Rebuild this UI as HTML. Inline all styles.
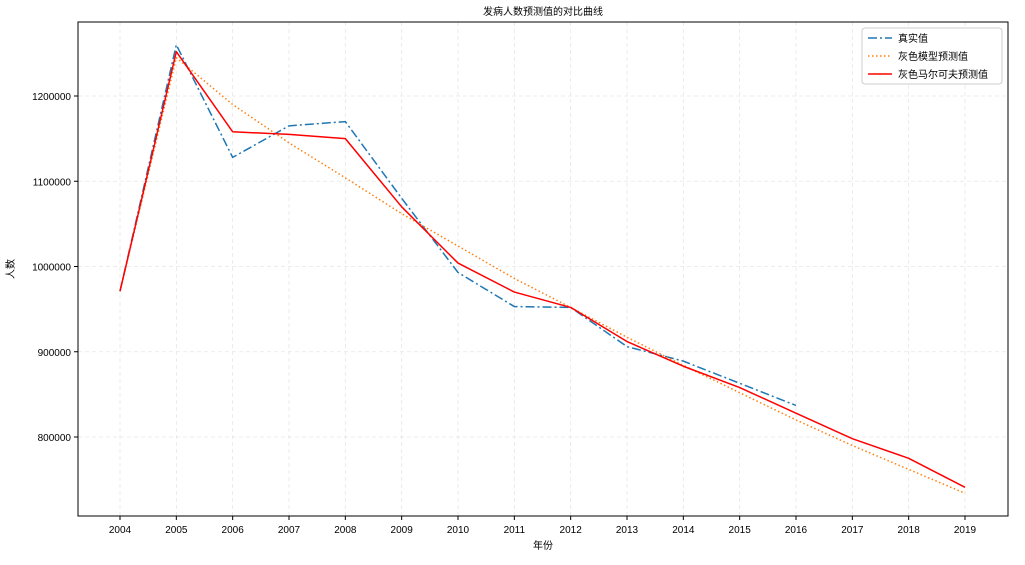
<!DOCTYPE html>
<html><head><meta charset="utf-8"><style>
body{margin:0;background:#fff;}
svg text{font-family:"Liberation Sans","Noto Sans CJK SC",sans-serif;}
</style></head><body>
<svg id="chart" width="1025" height="560" xmlns="http://www.w3.org/2000/svg"></svg>
<script>
const years=[2004,2005,2006,2007,2008,2009,2010,2011,2012,2013,2014,2015,2016,2017,2018,2019];
const actual=[971000,1260000,1128000,1165000,1170000,1080000,993000,953000,952000,906000,889000,863000,837000];
const greyModel=[971000,1245000,1190000,1145000,1104000,1062000,1024000,986000,952000,917000,884000,852000,820000,790000,762000,734000];
const markov=[971000,1252000,1158000,1155000,1150000,1070000,1004000,970000,952000,912000,883000,858000,828000,798000,775000,741000];
const yTicks=[800000,900000,1000000,1100000,1200000];

const L=78,R=1008,T=22,B=516;
const x=y=>120+(y-2004)*(965-120)/15;
const yv=v=>96+(1200000-v)/100000*85.25;
const svg=document.getElementById('chart');
const NS='http://www.w3.org/2000/svg';
function mk(tag,attrs,parent){const e=document.createElementNS(NS,tag);for(const k in attrs)e.setAttribute(k,attrs[k]);(parent||svg).appendChild(e);return e;}

const grid=mk('g',{});


years.forEach(yr=>{mk('line',{x1:x(yr),x2:x(yr),y1:T,y2:B,stroke:'#e6e6e6','stroke-dasharray':'4,3','stroke-width':0.8},grid);});
yTicks.forEach(v=>{mk('line',{x1:L,x2:R,y1:yv(v),y2:yv(v),stroke:'#e6e6e6','stroke-dasharray':'4,3','stroke-width':0.8},grid);});

function series(arr,color,dash,name,w){
  const pts=arr.map((v,i)=>x(years[i])+','+yv(v)).join(' ');
  const p=mk('polyline',{points:pts,fill:'none',stroke:color,'stroke-width':w,'stroke-dasharray':dash,'stroke-linejoin':'round'});
  
  
}
series(actual,'#1f77b4','9,3,2,3','series-actual',1.5);
series(greyModel,'#ff7f0e','1.5,2.5','series-grey-model',1.5);
series(markov,'#ff0000','none','series-grey-markov',1.5);

const frame=mk('rect',{x:L,y:T,width:R-L,height:B-T,fill:'none',stroke:'#000','stroke-width':1});



years.forEach(yr=>{
  mk('line',{x1:x(yr),x2:x(yr),y1:B,y2:B+4,stroke:'#000'});
  const t=mk('text',{x:x(yr),y:B+17,'text-anchor':'middle','font-size':10});
  t.textContent=yr;
  
  
});
yTicks.forEach(v=>{
  mk('line',{x1:L-4,x2:L,y1:yv(v),y2:yv(v),stroke:'#000'});
  const t=mk('text',{x:L-7,y:yv(v)+4,'text-anchor':'end','font-size':10});
  t.textContent=v;
  
  
});
</script>
<svg style="position:absolute;left:0;top:0" width="1025" height="560" xmlns="http://www.w3.org/2000/svg">
<text x="543" y="15" text-anchor="middle" font-size="10">发病人数预测值的对比曲线</text>
<text x="543" y="549" text-anchor="middle" font-size="10">年份</text>
<text transform="translate(14,269) rotate(-90)" text-anchor="middle" font-size="10">人数</text>
<g>
<rect x="862" y="28" width="140" height="56" fill="#fff" stroke="#ccc" rx="3"/>
<line x1="868" y1="38" x2="892" y2="38" stroke="#1f77b4" stroke-width="1.5" stroke-dasharray="9,3,2,3"/>
<text x="898" y="42" font-size="10">真实值</text>
<line x1="868" y1="56" x2="892" y2="56" stroke="#ff7f0e" stroke-width="1.5" stroke-dasharray="1.5,2.5"/>
<text x="898" y="60" font-size="10">灰色模型预测值</text>
<line x1="868" y1="74" x2="892" y2="74" stroke="#ff0000" stroke-width="1.5"/>
<text x="898" y="78" font-size="10">灰色马尔可夫预测值</text>
</g>
</svg>
</body></html>
